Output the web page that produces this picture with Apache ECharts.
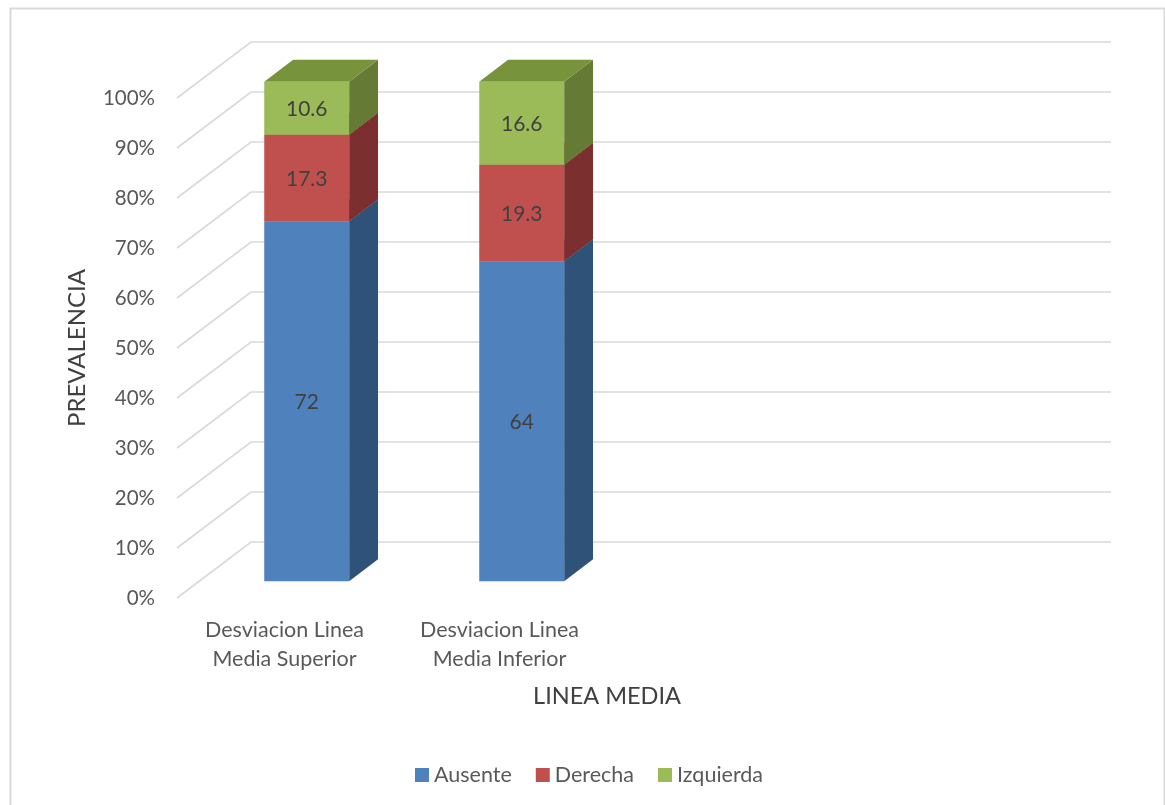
<!DOCTYPE html>
<html>
<head>
<meta charset="utf-8">
<title>Linea media</title>
<script src="https://cdn.jsdelivr.net/npm/echarts@6/dist/echarts.min.js"></script>
<style>
  html, body { margin: 0; padding: 0; background: #ffffff; }
  #chart { width: 1165px; height: 805px; }
</style>
</head>
<body>
<div id="chart"></div>
<script>
// Categories along the floor (the last two slots are left empty)
const categories = ['Desviacion Linea\nMedia Superior', 'Desviacion Linea\nMedia Inferior', '', ''];
const seriesNames = ['Ausente', 'Derecha', 'Izquierda'];
const ausente   = [72, 64];
const derecha   = [17.3, 19.3];
const izquierda = [10.6, 16.6];
const yTicks = [0, 10, 20, 30, 40, 50, 60, 70, 80, 90, 100];

// face colours: front, side, top
const palette = [
  { front: '#4F81BD', side: '#2F5279', top: '#3C6496' },
  { front: '#C0504D', side: '#7B2F2E', top: '#9A3D3A' },
  { front: '#9BBB59', side: '#647A35', top: '#77933C' }
];

// oblique projection of the depth axis (pixels for the full floor depth)
const DEPTH_X = 74, DEPTH_Y = -56;
const BAR_FRONT = 0.30;   // fraction of depth where the bar front sits
const BAR_DEPTH = 0.39;   // fraction of depth taken by the bar
const BAR_WIDTH = 0.395;  // fraction of a category band

const seriesValues = [ausente, derecha, izquierda];

// stack each series on the previous ones
function stackedData(idx) {
  return seriesValues[idx].map(function (v, i) {
    let base = 0;
    for (let k = 0; k < idx; k++) base += seriesValues[k][i];
    return [i, base, v];
  });
}

function renderGrid(params, api) {
  const cs = params.coordSys;
  const p = api.coord([0, api.value(1)]);
  const y = p[1];
  return {
    type: 'polyline',
    shape: { points: [[cs.x, y], [cs.x + DEPTH_X, y + DEPTH_Y], [cs.x + cs.width + DEPTH_X, y + DEPTH_Y]] },
    style: { stroke: '#D9D9D9', lineWidth: 1.6, fill: null },
    silent: true
  };
}

function makeBarRenderer(sIdx) {
  const c = palette[sIdx];
  return function (params, api) {
    const cat = api.value(0), base = api.value(1), val = api.value(2);
    const pb = api.coord([cat, base]);
    const pt = api.coord([cat, base + val]);
    const bw = api.size([1, 0])[0] * BAR_WIDTH;
    const fx = DEPTH_X * BAR_FRONT, fy = DEPTH_Y * BAR_FRONT;
    const dx = DEPTH_X * BAR_DEPTH, dy = DEPTH_Y * BAR_DEPTH;
    const xl = pb[0] - bw / 2 + fx, xr = pb[0] + bw / 2 + fx;
    const yb = pb[1] + fy, yt = pt[1] + fy;
    return {
      type: 'group',
      children: [
        { type: 'polygon', shape: { points: [[xr, yb], [xr + dx, yb + dy], [xr + dx, yt + dy], [xr, yt]] },
          style: { fill: c.side } },
        { type: 'polygon', shape: { points: [[xl, yt], [xr, yt], [xr + dx, yt + dy], [xl + dx, yt + dy]] },
          style: { fill: c.top } },
        { type: 'rect', shape: { x: xl, y: yt, width: xr - xl, height: yb - yt },
          style: { fill: c.front } },
        { type: 'text', x: (xl + xr) / 2, y: (yt + yb) / 2 + 1,
          style: { text: String(val), fill: '#404040', font: '21px Lato', align: 'center', verticalAlign: 'middle' } }
      ]
    };
  };
}

const chart = echarts.init(document.getElementById('chart'), null, { renderer: 'canvas' });

const series = [{
  name: 'grid3d',
  type: 'custom',
  renderItem: renderGrid,
  data: yTicks.map(function (t) { return [0, t]; }),
  encode: { x: 0, y: 1 },
  silent: true,
  z: 1
}];
seriesNames.forEach(function (name, i) {
  series.push({
    name: name,
    type: 'custom',
    renderItem: makeBarRenderer(i),
    data: stackedData(i),
    encode: { x: 0, y: [1, 2] },
    itemStyle: { color: palette[i].front },
    z: 2 + i
  });
});

chart.setOption({
  animation: false,
  backgroundColor: '#ffffff',
  color: palette.map(function (p) { return p.front; }),
  textStyle: { fontFamily: 'Lato' },
  graphic: [{
    type: 'rect', left: 8, top: 6,
    shape: { width: 1154, height: 810 },
    style: { fill: null, stroke: '#D9D9D9', lineWidth: 2 },
    silent: true, z: -10
  }],
  grid: { left: 177, top: 98, right: 128, bottom: 207 },
  xAxis: {
    type: 'category',
    data: categories,
    axisLine: { show: false },
    axisTick: { show: false },
    axisLabel: { color: '#595959', fontSize: 21.5, lineHeight: 29, margin: 18, interval: 0 },
    name: 'LINEA MEDIA',
    nameLocation: 'middle',
    nameGap: 86,
    nameTextStyle: { color: '#404040', fontSize: 23.5 }
  },
  yAxis: {
    type: 'value',
    min: 0, max: 100, interval: 10,
    axisLine: { show: false },
    axisTick: { show: false },
    splitLine: { show: false },
    axisLabel: { color: '#595959', fontSize: 20.5, margin: 22, formatter: '{value}%', padding: [4, 0, 0, 0] },
    name: 'PREVALENCIA',
    nameLocation: 'middle',
    nameGap: 88,
    nameRotate: 90,
    nameTextStyle: { color: '#404040', fontSize: 24 }
  },
  legend: {
    data: seriesNames,
    left: 410, top: 759,
    icon: 'rect',
    itemWidth: 14, itemHeight: 14,
    itemGap: 24,
    textStyle: { color: '#595959', fontSize: 21.5 }
  },
  series: series
});
</script>
</body>
</html>
